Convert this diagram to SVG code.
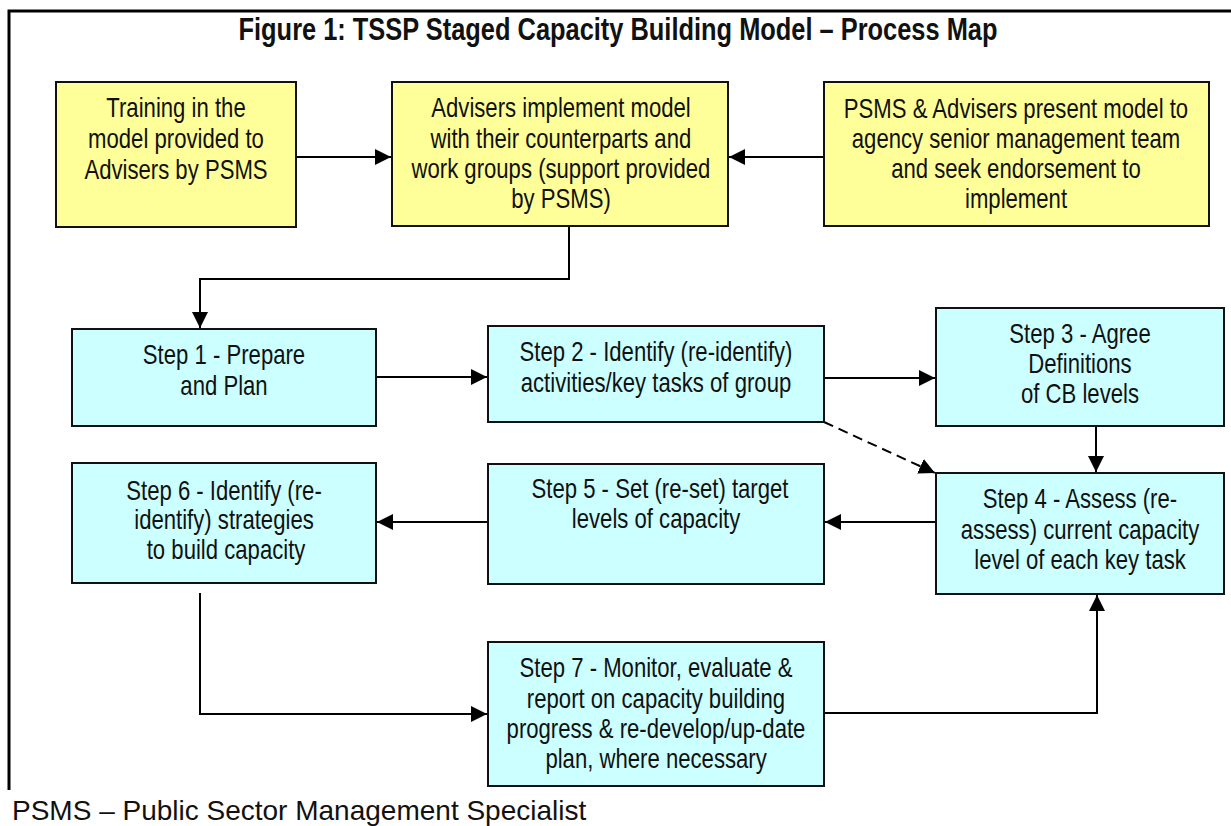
<svg xmlns="http://www.w3.org/2000/svg" width="1231" height="826" viewBox="0 0 1231 826">
<style>
.box{stroke:#111;stroke-width:2}
.y{fill:#FFFF99}
.c{fill:#CCFFFF}
.t,.title{font-family:"Liberation Sans",Arial,sans-serif;fill:#111;text-anchor:middle;transform-box:fill-box;transform-origin:center;transform:scaleX(0.82)}
.t{font-size:27px}
.title{font-size:31px;font-weight:bold}
.note{font-family:"Liberation Sans",Arial,sans-serif;font-size:28px;fill:#111}
.ln{fill:none;stroke:#000;stroke-width:2}
.dash{stroke-dasharray:10 6}
</style>
<defs>
<marker id="ah" markerUnits="userSpaceOnUse" markerWidth="16" markerHeight="16" refX="15" refY="7.5" orient="auto" viewBox="0 0 15 15">
<path d="M0,0 L15,7.5 L0,15 z" fill="#000"/>
</marker>
</defs>
<rect width="1231" height="826" fill="#fff"/>
<path d="M9,790 V11 H1231" fill="none" stroke="#000" stroke-width="3"/>
<text class="title" x="618" y="40">Figure 1: TSSP Staged Capacity Building Model – Process Map</text>

<g id="connectors">
<path class="ln" marker-end="url(#ah)" d="M296,157 H391"/>
<path class="ln" marker-end="url(#ah)" d="M824,157 H729"/>
<path class="ln" marker-end="url(#ah)" d="M569,226 V279 H200 V328"/>
<path class="ln" marker-end="url(#ah)" d="M376,377 H487"/>
<path class="ln" marker-end="url(#ah)" d="M824,378 H935"/>
<path class="ln" marker-end="url(#ah)" d="M1096,426 V472"/>
<path class="ln dash" marker-end="url(#ah)" d="M824,422 L935,473"/>
<path class="ln" marker-end="url(#ah)" d="M936,522 H825"/>
<path class="ln" marker-end="url(#ah)" d="M488,522 H377"/>
<path class="ln" marker-end="url(#ah)" d="M200,593 V714 H487"/>
<path class="ln" marker-end="url(#ah)" d="M824,713 H1097 V595"/>
</g>

<g id="n-training">
<rect class="box y" x="56" y="82" width="240" height="145"/>
<text class="t" x="176" y="117">Training in the</text>
<text class="t" x="176" y="148">model provided to</text>
<text class="t" x="176" y="179">Advisers by PSMS</text>
</g>
<g id="n-advisers">
<rect class="box y" x="392" y="82" width="336" height="144"/>
<text class="t" x="561" y="117">Advisers implement model</text>
<text class="t" x="561" y="148">with their counterparts and</text>
<text class="t" x="561" y="178">work groups (support provided</text>
<text class="t" x="561" y="208">by PSMS)</text>
</g>
<g id="n-present">
<rect class="box y" x="824" y="82" width="385" height="144"/>
<text class="t" x="1016" y="118">PSMS &amp; Advisers present model to</text>
<text class="t" x="1016" y="148">agency senior management team</text>
<text class="t" x="1016" y="178">and seek endorsement to</text>
<text class="t" x="1016" y="208">implement</text>
</g>
<g id="n-step1">
<rect class="box c" x="72" y="329" width="304" height="97"/>
<text class="t" x="224" y="364">Step 1 - Prepare</text>
<text class="t" x="224" y="395">and Plan</text>
</g>
<g id="n-step2">
<rect class="box c" x="488" y="326" width="336" height="96"/>
<text class="t" x="656" y="361">Step 2 - Identify (re-identify)</text>
<text class="t" x="656" y="392">activities/key tasks of group</text>
</g>
<g id="n-step3">
<rect class="box c" x="936" y="308" width="288" height="118"/>
<text class="t" x="1080" y="343">Step 3 - Agree</text>
<text class="t" x="1080" y="373">Definitions</text>
<text class="t" x="1080" y="403">of CB levels</text>
</g>
<g id="n-step4">
<rect class="box c" x="936" y="473" width="288" height="121"/>
<text class="t" x="1080" y="508">Step 4 - Assess (re-</text>
<text class="t" x="1080" y="539">assess) current capacity</text>
<text class="t" x="1080" y="569">level of each key task</text>
</g>
<g id="n-step5">
<rect class="box c" x="488" y="464" width="336" height="120"/>
<text class="t" x="660" y="498">Step 5 - Set (re-set) target</text>
<text class="t" x="656" y="528">levels of capacity</text>
</g>
<g id="n-step6">
<rect class="box c" x="72" y="463" width="304" height="120"/>
<text class="t" x="224" y="500">Step 6 - Identify (re-</text>
<text class="t" x="224" y="529">identify) strategies</text>
<text class="t" x="226" y="559">to build capacity</text>
</g>
<g id="n-step7">
<rect class="box c" x="488" y="642" width="336" height="144"/>
<text class="t" x="656" y="677">Step 7 - Monitor, evaluate &amp;</text>
<text class="t" x="656" y="708">report on capacity building</text>
<text class="t" x="656" y="738">progress &amp; re-develop/up-date</text>
<text class="t" x="656" y="768">plan, where necessary</text>
</g>

<text class="note" x="12" y="820">PSMS – Public Sector Management Specialist</text>
</svg>
